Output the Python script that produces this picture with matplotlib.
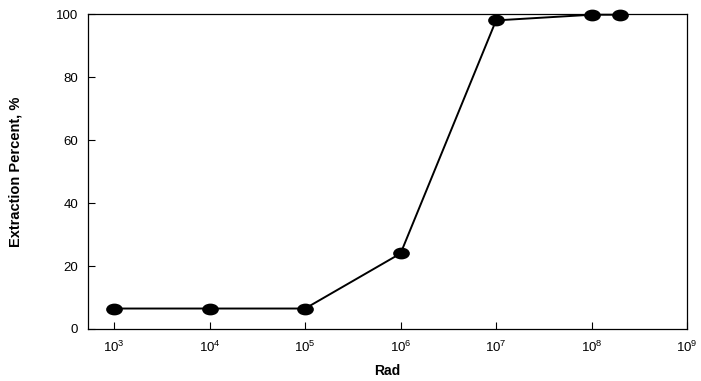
import matplotlib
matplotlib.use("Agg")
import matplotlib.pyplot as plt
from matplotlib.path import Path
from matplotlib.transforms import Affine2D
from matplotlib.ticker import FixedLocator, NullLocator, LogFormatterMathtext

plt.rcParams['font.family'] = ['Liberation Sans', 'DejaVu Sans']
plt.rcParams['mathtext.fontset'] = 'custom'
plt.rcParams['mathtext.rm'] = 'Liberation Sans'

# data
rad = [1e3, 1e4, 1e5, 1e6, 1e7, 1e8, 2e8]
extraction = [6.5, 6.5, 6.5, 24.0, 98.0, 99.8, 99.8]
x_ticks = [1e3, 1e4, 1e5, 1e6, 1e7, 1e8, 1e9]
y_ticks = [0, 20, 40, 60, 80, 100]

# slightly flattened dot like the original
oval = Path.unit_circle().transformed(Affine2D().scale(1.0, 0.68))

fig = plt.figure(figsize=(7.01, 3.81), dpi=100)
ax = fig.add_axes([0.1255, 0.1365, 0.8545, 0.8265])

ax.plot(rad, extraction, color='black', lw=1.4, marker=oval, ms=11,
        markeredgecolor='black', markerfacecolor='black', clip_on=False, zorder=3)

ax.set_xscale('log')
ax.set_xlim(10 ** 2.725, 1e9)
ax.set_ylim(0, 100)
ax.xaxis.set_major_locator(FixedLocator(x_ticks))
ax.xaxis.set_major_formatter(LogFormatterMathtext())
ax.xaxis.set_minor_locator(NullLocator())
ax.set_yticks(y_ticks)

ax.tick_params(direction='in', length=5, width=0.8, labelsize=9.5, pad=7)
ax.tick_params(axis='x', pad=8)
for s in ax.spines.values():
    s.set_linewidth(0.9)

ax.set_xlabel('Rad', fontsize=10, fontweight='bold', labelpad=6)
ax.set_ylabel('Extraction Percent, %', fontsize=10.5, fontweight='bold', labelpad=24)

fig.savefig('out.png', dpi=100)
